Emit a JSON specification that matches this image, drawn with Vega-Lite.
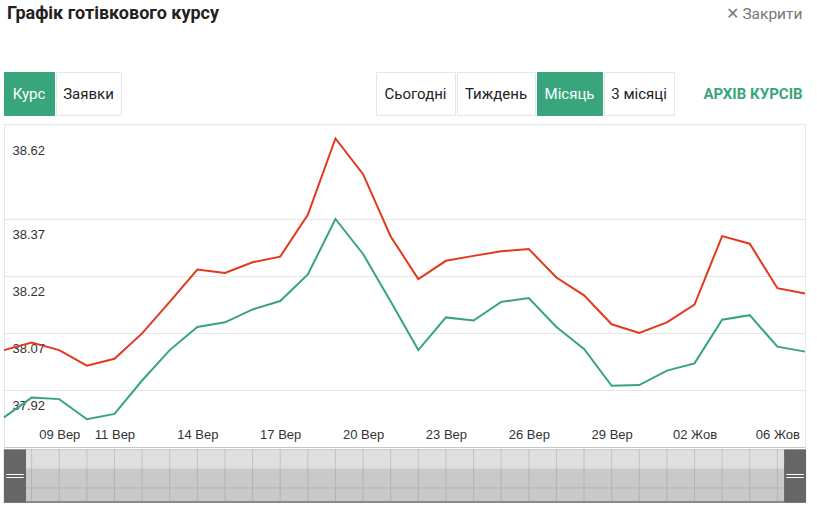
{
  "$schema": "https://vega.github.io/schema/vega-lite/v6.json",
  "background": "white",
  "padding": {"left": -1, "top": 0, "right": 0, "bottom": 0},
  "datasets": {
    "rates": [
      {"date": "2023-09-07", "sell": 38.025, "buy": 37.848},
      {"date": "2023-09-08", "sell": 38.045, "buy": 37.900},
      {"date": "2023-09-09", "sell": 38.025, "buy": 37.896},
      {"date": "2023-09-10", "sell": 37.984, "buy": 37.843},
      {"date": "2023-09-11", "sell": 38.002, "buy": 37.857},
      {"date": "2023-09-12", "sell": 38.069, "buy": 37.945},
      {"date": "2023-09-13", "sell": 38.152, "buy": 38.025},
      {"date": "2023-09-14", "sell": 38.237, "buy": 38.086},
      {"date": "2023-09-15", "sell": 38.228, "buy": 38.098},
      {"date": "2023-09-16", "sell": 38.256, "buy": 38.132},
      {"date": "2023-09-17", "sell": 38.271, "buy": 38.154},
      {"date": "2023-09-18", "sell": 38.381, "buy": 38.224},
      {"date": "2023-09-19", "sell": 38.582, "buy": 38.370},
      {"date": "2023-09-20", "sell": 38.488, "buy": 38.278},
      {"date": "2023-09-21", "sell": 38.324, "buy": 38.153},
      {"date": "2023-09-22", "sell": 38.212, "buy": 38.025},
      {"date": "2023-09-23", "sell": 38.260, "buy": 38.111},
      {"date": "2023-09-24", "sell": 38.273, "buy": 38.103},
      {"date": "2023-09-25", "sell": 38.285, "buy": 38.152},
      {"date": "2023-09-26", "sell": 38.291, "buy": 38.162},
      {"date": "2023-09-27", "sell": 38.216, "buy": 38.086},
      {"date": "2023-09-28", "sell": 38.169, "buy": 38.028},
      {"date": "2023-09-29", "sell": 38.093, "buy": 37.931},
      {"date": "2023-09-30", "sell": 38.070, "buy": 37.933},
      {"date": "2023-10-01", "sell": 38.098, "buy": 37.971},
      {"date": "2023-10-02", "sell": 38.145, "buy": 37.990},
      {"date": "2023-10-03", "sell": 38.325, "buy": 38.105},
      {"date": "2023-10-04", "sell": 38.305, "buy": 38.117},
      {"date": "2023-10-06", "sell": 38.188, "buy": 38.034},
      {"date": "2023-10-07", "sell": 38.174, "buy": 38.021}
    ]
  },
  "spacing": 7,
  "vconcat": [
    {
      "spacing": 43,
      "vconcat": [
        {
          "spacing": 497,
          "hconcat": [
            {
              "width": 218, "height": 28, "view": {"stroke": null},
              "data": {"values": [{"t": "Графік готівкового курсу"}]},
              "mark": {"type": "text", "font": "Roboto", "fontSize": 18, "fontWeight": "bold", "color": "#222222", "baseline": "middle"},
              "encoding": {"text": {"field": "t"}}
            },
            {
              "width": 90, "height": 28, "view": {"stroke": null},
              "data": {"values": [{"t": "✕  Закрити"}]},
              "mark": {"type": "text", "font": "Roboto", "fontSize": 15.5, "color": "#777777", "baseline": "middle"},
              "encoding": {"text": {"field": "t"}}
            }
          ]
        },
        {
          "spacing": 253,
          "hconcat": [
            {
              "spacing": 0,
              "hconcat": [
                {
                  "width": 50, "height": 43, "view": {"fill": "#38a57c", "stroke": "#38a57c"},
                  "data": {"values": [{"label": "Курс"}]},
                  "mark": {"type": "text", "font": "Roboto", "fontSize": 15, "color": "#ffffff", "baseline": "middle"},
                  "encoding": {"text": {"field": "label"}}
                },
                {
                  "width": 65, "height": 43, "view": {"fill": "#ffffff", "stroke": "#e6e6e6"},
                  "data": {"values": [{"label": "Заявки"}]},
                  "mark": {"type": "text", "font": "Roboto", "fontSize": 15, "color": "#222222", "baseline": "middle"},
                  "encoding": {"text": {"field": "label"}}
                }
              ]
            },
            {
              "spacing": 25,
              "hconcat": [
                {
                  "spacing": 0,
                  "hconcat": [
                    {
                      "width": 79, "height": 43, "view": {"fill": "#ffffff", "stroke": "#e6e6e6"},
                      "data": {"values": [{"label": "Сьогодні"}]},
                      "mark": {"type": "text", "font": "Roboto", "fontSize": 15, "color": "#222222", "baseline": "middle"},
                      "encoding": {"text": {"field": "label"}}
                    },
                    {
                      "width": 78, "height": 43, "view": {"fill": "#ffffff", "stroke": "#e6e6e6"},
                      "data": {"values": [{"label": "Тиждень"}]},
                      "mark": {"type": "text", "font": "Roboto", "fontSize": 15, "color": "#222222", "baseline": "middle"},
                      "encoding": {"text": {"field": "label"}}
                    },
                    {
                      "width": 65, "height": 43, "view": {"fill": "#38a57c", "stroke": "#38a57c"},
                      "data": {"values": [{"label": "Місяць"}]},
                      "mark": {"type": "text", "font": "Roboto", "fontSize": 15, "color": "#ffffff", "baseline": "middle"},
                      "encoding": {"text": {"field": "label"}}
                    },
                    {
                      "width": 70, "height": 43, "view": {"fill": "#ffffff", "stroke": "#e6e6e6"},
                      "data": {"values": [{"label": "3 місяці"}]},
                      "mark": {"type": "text", "font": "Roboto", "fontSize": 15, "color": "#222222", "baseline": "middle"},
                      "encoding": {"text": {"field": "label"}}
                    }
                  ]
                },
                {
                  "width": 106, "height": 43, "view": {"stroke": null},
                  "data": {"values": [{"label": "АРХІВ КУРСІВ"}]},
                  "mark": {"type": "text", "font": "Roboto", "fontSize": 15, "fontWeight": "bold", "color": "#38a57c", "baseline": "middle"},
                  "encoding": {"text": {"field": "label"}}
                }
              ]
            }
          ]
        }
      ]
    },
    {
      "spacing": 0,
      "vconcat": [
        {
          "width": 801, "height": 323,
          "view": {"stroke": "#e6e6e6"},
          "data": {"name": "rates"},
          "transform": [{"fold": ["sell", "buy"], "as": ["series", "rate"]}],
          "mark": {"type": "line", "strokeWidth": 2},
          "encoding": {
            "x": {
              "field": "date", "type": "ordinal",
              "scale": {"type": "point", "padding": 0},
              "axis": {
                "title": null,
                "values": ["2023-09-09", "2023-09-11", "2023-09-14", "2023-09-17", "2023-09-20", "2023-09-23", "2023-09-26", "2023-09-29", "2023-10-02", "2023-10-06"],
                "labelExpr": "substring(datum.value, 8, 10) + (substring(datum.value, 5, 7) == '09' ? ' Вер' : ' Жов')",
                "labelAngle": 0, "ticks": false, "tickSize": 0,
                "labelPadding": -13, "labelBaseline": "middle",
                "labelFont": "Liberation Sans", "labelFontSize": 13, "labelColor": "#333333",
                "labelOverlap": false,
                "domain": true, "domainColor": "#c4c4c4", "grid": false
              }
            },
            "y": {
              "field": "rate", "type": "quantitative",
              "scale": {"domain": [37.77, 38.62], "nice": false, "zero": false},
              "axis": {
                "title": null,
                "values": [37.92, 38.07, 38.22, 38.37, 38.62],
                "format": ".2f",
                "ticks": false, "tickSize": 0, "domain": false,
                "labelAlign": "left", "labelPadding": -8, "labelBaseline": "middle",
                "labelOffset": {"condition": {"test": "datum.value > 38.5", "value": 26}, "value": 15},
                "labelFont": "Liberation Sans", "labelFontSize": 13, "labelColor": "#333333",
                "labelOverlap": false,
                "grid": true, "gridColor": "#e6e6e6"
              }
            },
            "color": {
              "field": "series", "type": "nominal",
              "scale": {"domain": ["sell", "buy"], "range": ["#e3371e", "#37a47c"]},
              "legend": null
            }
          }
        },
        {
          "width": 801, "height": 54,
          "view": {"fill": "#c8c9c8", "stroke": null},
          "data": {"name": "rates"},
          "layer": [
            {
              "transform": [{"filter": "datum.date == '2023-09-07'"}],
              "mark": {"type": "rect", "color": "#dfdfdf"},
              "encoding": {
                "y": {"datum": 0.98, "type": "quantitative", "scale": {"domain": [0, 1], "nice": false, "zero": false}, "axis": null},
                "y2": {"datum": 0.64}
              }
            },
            {
              "mark": {"type": "rule", "color": "#8c8c8c", "opacity": 0.35, "strokeWidth": 1},
              "encoding": {
                "x": {"field": "date", "type": "ordinal", "scale": {"type": "point", "padding": 0}, "axis": null}
              }
            },
            {
              "transform": [{"filter": "datum.date == '2023-09-07'"}],
              "mark": {"type": "rule", "color": "#b3b3b3", "strokeWidth": 1},
              "encoding": {"y": {"datum": 0.28, "type": "quantitative"}}
            },
            {
              "transform": [{"filter": "datum.date == '2023-09-07'"}],
              "mark": {"type": "rule", "color": "#8a8a8a", "strokeWidth": 2},
              "encoding": {"y": {"datum": 0.02, "type": "quantitative"}}
            },
            {
              "transform": [{"filter": "datum.date == '2023-09-07'"}],
              "mark": {"type": "point", "shape": "M0,-1.2H1V1.2H0Z", "size": 1936, "filled": true, "color": "#666666", "opacity": 1, "strokeWidth": 0},
              "encoding": {"x": {"field": "date", "type": "ordinal"}}
            },
            {
              "transform": [{"filter": "datum.date == '2023-09-07'"}],
              "mark": {"type": "point", "shape": "M0.1,-0.07H0.9M0.1,0.07H0.9", "size": 1936, "filled": false, "stroke": "#ffffff", "strokeWidth": 1, "opacity": 1},
              "encoding": {"x": {"field": "date", "type": "ordinal"}}
            },
            {
              "transform": [{"filter": "datum.date == '2023-10-07'"}],
              "mark": {"type": "point", "shape": "M-0.95,-1.2H0.05V1.2H-0.95Z", "size": 1936, "filled": true, "color": "#666666", "opacity": 1, "strokeWidth": 0},
              "encoding": {"x": {"field": "date", "type": "ordinal"}}
            },
            {
              "transform": [{"filter": "datum.date == '2023-10-07'"}],
              "mark": {"type": "point", "shape": "M-0.85,-0.07H-0.05M-0.85,0.07H-0.05", "size": 1936, "filled": false, "stroke": "#ffffff", "strokeWidth": 1, "opacity": 1},
              "encoding": {"x": {"field": "date", "type": "ordinal"}}
            }
          ]
        }
      ]
    }
  ]
}
